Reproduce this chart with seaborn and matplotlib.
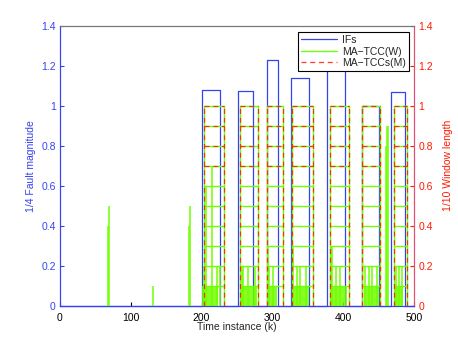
import numpy as np
import pandas as pd
import matplotlib
matplotlib.use('Agg')
import matplotlib.pyplot as plt
import seaborn as sns

sns.set_style('white')
plt.rcParams['font.family'] = ['Liberation Sans', 'DejaVu Sans']

# fault windows (IFs, 1/4 fault magnitude)
if_start = [201, 252, 292, 326, 377, 426, 467]
if_end = [226, 273, 308, 352, 403, 451, 487]
if_height = [1.08, 1.075, 1.23, 1.14, 1.2, 1.0, 1.07]

# detection windows for MA-TCC(W) / MA-TCCs(M)
win_start = [204, 254, 293, 328, 382, 427, 472]
win_end = [232, 280, 315, 358, 408, 452, 490]
w_levels = [0.1, 0.2, 0.3, 0.4, 0.5, 0.6, 0.7, 0.8, 0.9, 1.0]
m_levels = [0.7, 0.8, 0.9, 1.0]

# dense low part of W (0..0.1)
fill_start = [201, 254, 293, 328, 382, 430, 472]
fill_end = [223, 278, 307, 351, 405, 450, 485]

# single W spikes
stem_x = [68, 69, 131, 182, 183, 461, 462, 463,
          203, 206, 214, 222, 226,
          257, 259, 266, 276,
          294, 295, 301,
          329, 335, 339, 347,
          383, 384, 390, 396,
          431, 436, 441, 448,
          475, 479, 483]
stem_h = [0.4, 0.5, 0.1, 0.4, 0.5, 0.8, 0.9, 0.9,
          0.2, 0.6, 0.7, 0.2, 0.2,
          0.2, 0.2, 0.2, 0.2,
          0.3, 0.2, 0.2,
          0.3, 0.2, 0.2, 0.2,
          0.3, 0.3, 0.2, 0.2,
          0.2, 0.2, 0.2, 0.2,
          0.2, 0.2, 0.2]

blue = '#3344ee'
green = '#70ff00'
red = '#ff1a00'

# IF step curve
xs, ys = [0], [0]
for s, e, h in zip(if_start, if_end, if_height):
    xs += [s, s, e, e]
    ys += [0, h, h, 0]
xs.append(500)
ys.append(0)
df_if = pd.DataFrame({'k': xs, 'v': ys})


def window_path(levels):
    px, py = [], []
    for s, e in zip(win_start, win_end):
        px += [s, s, np.nan, e, e, np.nan]
        py += [0, 1.0, np.nan, 0, 1.0, np.nan]
        for lv in levels:
            px += [s, e, np.nan]
            py += [lv, lv, np.nan]
    return px, py


fig = plt.figure(figsize=(4.58, 3.45), dpi=100)
ax = fig.add_axes([0.131, 0.113, 0.773, 0.8125])
ax2 = ax.twinx()

sns.lineplot(data=df_if, x='k', y='v', sort=False, estimator=None,
             color=blue, lw=0.9, ax=ax, clip_on=False)

ax2.bar(fill_start, 0.1, width=np.array(fill_end) - np.array(fill_start),
        align='edge', color=green, linewidth=0, alpha=0.85)
ax2.vlines(stem_x, 0, stem_h, color=green, lw=1.1)
wx, wy = window_path(w_levels)
ax2.plot(wx, wy, color=green, lw=1.0)
mx, my = window_path(m_levels)
ax2.plot(mx, my, color=red, lw=0.9, alpha=0.85, dashes=(4, 3))

for a in (ax, ax2):
    a.set_xlim(0, 500)
    a.set_ylim(0, 1.4)

yt = [0, 0.2, 0.4, 0.6, 0.8, 1, 1.2, 1.4]
ytl = ['0', '0.2', '0.4', '0.6', '0.8', '1', '1.2', '1.4']
ax.set_yticks(yt)
ax.set_yticklabels(ytl)
ax2.set_yticks(yt)
ax2.set_yticklabels(ytl)
ax.set_xticks([0, 100, 200, 300, 400, 500])

ax.tick_params(axis='y', direction='in', length=3, colors=blue, labelsize=7.5, pad=3)
ax.tick_params(axis='x', direction='in', length=3, colors='black', labelsize=7.5, pad=5, bottom=True)
ax2.tick_params(axis='y', direction='in', length=3, colors=red, labelsize=7.5, pad=3)

ax.set_xlabel('Time instance (k)', fontsize=7.5, labelpad=-1)
ax.set_ylabel('1/4 Fault magnitude', fontsize=7.5, color=blue, labelpad=4)
ax2.set_ylabel('1/10 Window length', fontsize=7.5, color=red, labelpad=7)

for a in (ax, ax2):
    a.spines['left'].set_color(blue)
    a.spines['right'].set_color('#e05070')
    a.spines['top'].set_color('#777777')
    a.spines['bottom'].set_color(blue)
    for sp in a.spines.values():
        sp.set_linewidth(0.8)

handles = [plt.Line2D([], [], color=blue, lw=0.9),
           plt.Line2D([], [], color=green, lw=1.0),
           plt.Line2D([], [], color=red, lw=0.9, alpha=0.85, dashes=(4, 3))]
leg = ax2.legend(handles, ['IFs', 'MA\u2212TCC(W)', 'MA\u2212TCCs(M)'],
                 loc='upper right', bbox_to_anchor=(0.986, 0.978),
                 fontsize=7.5, handlelength=3.4, fancybox=False,
                 framealpha=1, edgecolor='black', borderpad=0.3,
                 labelspacing=0.15, handletextpad=0.5, borderaxespad=0)
leg.get_frame().set_linewidth(0.8)

fig.savefig('out.png', dpi=100)
